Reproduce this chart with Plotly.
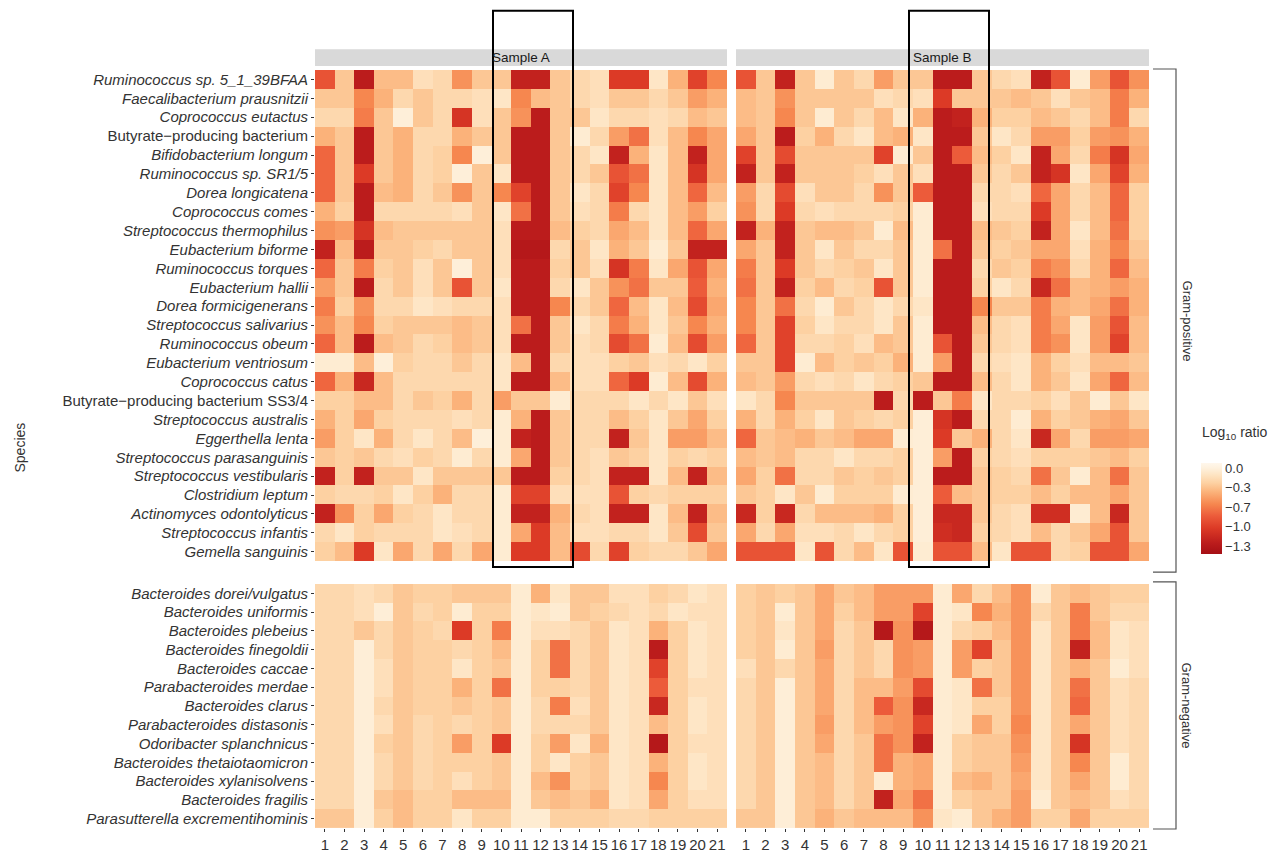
import plotly.graph_objects as go

# ---------------- data ----------------
columns = list(range(1, 22))
col_labels = [str(c) for c in columns]

gram_pos_species = [
    "Ruminococcus sp. 5_1_39BFAA", "Faecalibacterium prausnitzii", "Coprococcus eutactus",
    "Butyrate−producing bacterium", "Bifidobacterium longum", "Ruminococcus sp. SR1/5",
    "Dorea longicatena", "Coprococcus comes", "Streptococcus thermophilus",
    "Eubacterium biforme", "Ruminococcus torques", "Eubacterium hallii",
    "Dorea formicigenerans", "Streptococcus salivarius", "Ruminococcus obeum",
    "Eubacterium ventriosum", "Coprococcus catus", "Butyrate−producing bacterium SS3/4",
    "Streptococcus australis", "Eggerthella lenta", "Streptococcus parasanguinis",
    "Streptococcus vestibularis", "Clostridium leptum", "Actinomyces odontolyticus",
    "Streptococcus infantis", "Gemella sanguinis",
]
gram_pos_italic = [n not in ("Butyrate−producing bacterium", "Butyrate−producing bacterium SS3/4")
                   for n in gram_pos_species]

gram_neg_species = [
    "Bacteroides dorei/vulgatus", "Bacteroides uniformis", "Bacteroides plebeius",
    "Bacteroides finegoldii", "Bacteroides caccae", "Parabacteroides merdae",
    "Bacteroides clarus", "Parabacteroides distasonis", "Odoribacter splanchnicus",
    "Bacteroides thetaiotaomicron", "Bacteroides xylanisolvens", "Bacteroides fragilis",
    "Parasutterella excrementihominis",
]

gram_pos_A = [
    [-0.85,-0.3,-1.25,-0.35,-0.35,-0.15,-0.2,-0.55,-0.3,-0.3,-1.2,-1.2,-0.3,-0.2,-0.15,-1.0,-1.0,-0.1,-0.4,-0.95,-0.6],
    [-0.3,-0.3,-0.6,-0.4,-0.2,-0.3,-0.2,-0.2,-0.15,-0.1,-0.6,-0.35,-0.3,-0.2,-0.15,-0.3,-0.3,-0.2,-0.3,-0.5,-0.4],
    [-0.2,-0.2,-0.65,-0.3,-0.02,-0.3,-0.2,-1.05,-0.15,-0.3,-0.55,-1.25,-0.3,-0.3,-0.1,-0.2,-0.2,-0.15,-0.2,-0.35,-0.3],
    [-0.4,-0.3,-1.25,-0.3,-0.4,-0.2,-0.2,-0.4,-0.3,-0.3,-1.25,-1.25,-0.3,-0.05,-0.2,-0.5,-0.7,-0.15,-0.35,-0.6,-0.45],
    [-0.75,-0.3,-1.25,-0.3,-0.4,-0.2,-0.25,-0.6,-0.02,-0.3,-1.25,-1.25,-0.3,-0.2,-0.1,-1.2,-0.4,-0.1,-0.35,-1.2,-0.45],
    [-0.75,-0.3,-1.0,-0.3,-0.4,-0.2,-0.25,-0.02,-0.3,-0.1,-1.25,-1.25,-0.3,-0.2,-0.3,-0.85,-0.7,-0.1,-0.35,-1.05,-0.45],
    [-0.75,-0.3,-1.25,-0.35,-0.4,-0.2,-0.3,-0.55,-0.3,-0.6,-0.95,-1.25,-0.3,-0.1,-0.2,-0.95,-0.6,-0.1,-0.35,-0.75,-0.35],
    [-0.4,-0.25,-1.25,-0.2,-0.2,-0.2,-0.2,-0.15,-0.3,-0.1,-0.7,-1.25,-0.3,-0.15,-0.2,-0.65,-0.2,-0.1,-0.35,-0.5,-0.25],
    [-0.55,-0.5,-1.05,-0.35,-0.3,-0.3,-0.3,-0.3,-0.3,-0.15,-1.25,-1.25,-0.35,-0.25,-0.2,-0.45,-0.35,-0.1,-0.35,-0.75,-0.45],
    [-1.2,-0.35,-1.25,-0.3,-0.3,-0.25,-0.2,-0.3,-0.3,-0.15,-1.3,-1.3,-0.2,-0.3,-0.1,-0.4,-0.3,-0.05,-0.3,-1.2,-1.2],
    [-0.75,-0.3,-0.65,-0.25,-0.3,-0.15,-0.3,-0.02,-0.3,-0.15,-1.25,-1.25,-0.25,-0.3,-0.15,-1.05,-0.65,-0.1,-0.45,-0.85,-0.45],
    [-0.5,-0.3,-1.25,-0.2,-0.3,-0.15,-0.3,-0.85,-0.3,-0.1,-1.25,-1.25,-0.2,-0.1,-0.3,-0.55,-0.7,-0.3,-0.3,-0.8,-0.4],
    [-0.65,-0.25,-0.55,-0.2,-0.2,-0.1,-0.15,-0.2,-0.2,-0.15,-1.25,-1.25,-0.6,-0.2,-0.3,-0.75,-0.35,-0.1,-0.35,-0.9,-0.45],
    [-0.55,-0.35,-0.6,-0.25,-0.3,-0.3,-0.3,-0.35,-0.3,-0.15,-0.7,-1.25,-0.3,-0.1,-0.2,-0.65,-0.4,-0.1,-0.3,-0.6,-0.4],
    [-0.75,-0.35,-1.25,-0.35,-0.3,-0.2,-0.25,-0.35,-0.3,-0.15,-1.25,-1.25,-0.3,-0.15,-0.2,-0.9,-0.7,-0.05,-0.35,-0.9,-0.5],
    [-0.05,-0.05,-0.35,-0.02,-0.25,-0.2,-0.2,-0.3,-0.2,-0.1,-0.35,-1.25,-0.2,-0.15,-0.15,-0.25,-0.3,-0.15,-0.2,-0.1,-0.25],
    [-0.75,-0.4,-1.15,-0.35,-0.2,-0.2,-0.2,-0.2,-0.2,-0.1,-1.25,-1.25,-0.35,-0.15,-0.15,-0.75,-1.0,-0.05,-0.35,-0.9,-0.4],
    [-0.25,-0.25,-0.35,-0.35,-0.2,-0.3,-0.25,-0.4,-0.2,-0.5,-0.3,-0.3,-0.05,-0.2,-0.2,-0.2,-0.1,-0.2,-0.1,-0.3,-0.15],
    [-0.4,-0.25,-0.45,-0.25,-0.2,-0.2,-0.2,-0.15,-0.2,-0.05,-0.4,-1.25,-0.3,-0.2,-0.2,-0.35,-0.25,-0.1,-0.3,-0.45,-0.25],
    [-0.5,-0.25,-0.1,-0.4,-0.2,-0.1,-0.2,-0.35,-0.02,-0.05,-1.2,-1.25,-0.3,-0.2,-0.2,-1.2,-0.3,-0.1,-0.5,-0.5,-0.35],
    [-0.3,-0.25,-0.3,-0.2,-0.15,-0.25,-0.2,-0.05,-0.2,-0.05,-0.45,-1.25,-0.3,-0.2,-0.15,-0.3,-0.25,-0.1,-0.25,-0.2,-0.25],
    [-1.2,-0.25,-1.2,-0.3,-0.3,-0.1,-0.3,-0.3,-0.3,-0.3,-1.25,-1.25,-0.25,-0.2,-0.15,-1.2,-1.2,-0.1,-0.35,-1.2,-0.35],
    [-0.25,-0.2,-0.2,-0.25,-0.1,-0.25,-0.4,-0.2,-0.2,-0.05,-0.95,-0.95,-0.15,-0.15,-0.15,-0.85,-0.25,-0.2,-0.25,-0.25,-0.25],
    [-1.2,-0.55,-0.25,-0.45,-0.25,-0.2,-0.1,-0.2,-0.2,-0.05,-1.2,-1.2,-0.4,-0.2,-0.15,-1.2,-1.2,-0.1,-0.35,-1.2,-0.35],
    [-0.2,-0.1,-0.25,-0.2,-0.2,-0.2,-0.1,-0.15,-0.2,-0.05,-0.45,-1.0,-0.35,-0.15,-0.15,-0.2,-0.2,-0.1,-0.3,-0.9,-0.3],
    [-0.25,-0.35,-1.0,-0.1,-0.45,-0.2,-0.45,-0.2,-0.45,-0.05,-1.0,-1.0,-0.35,-0.9,-0.2,-0.95,-0.25,-0.2,-0.2,-0.3,-0.45],
]

gram_pos_B = [
    [-0.85,-0.3,-1.2,-0.3,-0.05,-0.3,-0.2,-0.5,-0.3,-0.3,-1.25,-1.25,-0.3,-0.2,-0.15,-1.2,-0.85,-0.05,-0.5,-0.85,-0.55],
    [-0.35,-0.3,-0.55,-0.3,-0.3,-0.3,-0.3,-0.15,-0.2,-0.15,-1.0,-0.3,-0.3,-0.3,-0.35,-0.3,-0.15,-0.3,-0.35,-0.65,-0.4],
    [-0.35,-0.3,-0.6,-0.3,-0.05,-0.3,-0.2,-0.35,-0.1,-0.4,-1.25,-1.2,-0.4,-0.25,-0.25,-0.35,-0.3,-0.2,-0.35,-0.65,-0.2],
    [-0.45,-0.3,-1.25,-0.25,-0.4,-0.2,-0.1,-0.35,-0.4,-0.1,-1.25,-1.25,-0.3,-0.1,-0.2,-0.5,-0.5,-0.25,-0.5,-0.55,-0.4],
    [-0.95,-0.3,-0.9,-0.3,-0.3,-0.3,-0.3,-0.95,-0.05,-0.3,-1.25,-0.8,-0.35,-0.25,-0.1,-1.2,-0.45,-0.2,-0.65,-1.05,-0.45],
    [-1.2,-0.3,-1.2,-0.3,-0.3,-0.3,-0.25,-0.15,-0.3,-0.15,-1.25,-1.25,-0.3,-0.2,-0.3,-1.2,-1.05,-0.1,-0.45,-0.95,-0.4],
    [-0.5,-0.2,-0.9,-0.15,-0.3,-0.3,-0.2,-0.55,-0.3,-0.8,-1.25,-1.25,-0.2,-0.2,-0.15,-0.75,-0.45,-0.2,-0.35,-0.75,-0.25],
    [-0.55,-0.2,-1.0,-0.2,-0.15,-0.2,-0.2,-0.2,-0.25,-0.05,-1.25,-1.25,-0.15,-0.2,-0.2,-1.0,-0.45,-0.2,-0.35,-0.75,-0.25],
    [-1.2,-0.4,-1.2,-0.3,-0.35,-0.35,-0.3,-0.05,-0.35,-0.05,-1.25,-1.25,-0.35,-0.3,-0.25,-1.2,-0.45,-0.1,-0.35,-0.7,-0.25],
    [-0.45,-0.3,-1.2,-0.3,-0.1,-0.3,-0.2,-0.2,-0.3,-0.05,-0.7,-1.25,-0.3,-0.25,-0.3,-0.45,-0.45,-0.15,-0.4,-0.6,-0.3],
    [-0.65,-0.3,-1.0,-0.3,-0.2,-0.25,-0.3,-0.1,-0.3,-0.05,-1.25,-1.25,-0.2,-0.3,-0.25,-0.65,-0.55,-0.2,-0.4,-0.75,-0.35],
    [-0.7,-0.3,-1.2,-0.25,-0.35,-0.2,-0.25,-0.85,-0.3,-0.05,-1.25,-1.25,-0.25,-0.1,-0.2,-1.15,-0.7,-0.35,-0.4,-0.5,-0.4],
    [-0.6,-0.3,-0.7,-0.2,-0.05,-0.3,-0.2,-0.1,-0.2,-0.1,-1.25,-1.25,-0.6,-0.3,-0.3,-0.65,-0.4,-0.35,-0.45,-0.7,-0.4],
    [-0.6,-0.3,-0.95,-0.25,-0.1,-0.2,-0.2,-0.1,-0.3,-0.05,-1.25,-1.25,-0.35,-0.2,-0.15,-0.65,-0.45,-0.1,-0.5,-0.85,-0.35],
    [-0.75,-0.3,-0.95,-0.2,-0.2,-0.25,-0.15,-0.35,-0.3,-0.05,-0.85,-1.25,-0.3,-0.2,-0.15,-0.65,-0.55,-0.1,-0.5,-0.95,-0.35],
    [-0.3,-0.3,-0.95,-0.05,-0.35,-0.25,-0.3,-0.25,-0.4,-0.05,-0.5,-1.25,-0.2,-0.15,-0.1,-0.4,-0.25,-0.15,-0.35,-0.35,-0.3],
    [-0.35,-0.3,-0.5,-0.2,-0.15,-0.2,-0.1,-0.2,-0.25,-0.3,-1.25,-1.25,-0.35,-0.2,-0.1,-0.4,-0.3,-0.1,-0.45,-0.75,-0.35],
    [-0.1,-0.2,-0.6,-0.3,-0.3,-0.3,-0.3,-1.25,-0.2,-1.25,-0.3,-0.65,-0.1,-0.2,-0.2,-0.25,-0.15,-0.3,-0.05,-0.3,-0.1],
    [-0.4,-0.2,-0.4,-0.25,-0.1,-0.3,-0.25,-0.2,-0.25,-0.03,-1.05,-1.25,-0.2,-0.2,-0.05,-0.4,-0.25,-0.3,-0.4,-0.45,-0.3],
    [-0.75,-0.3,-0.35,-0.4,-0.3,-0.35,-0.45,-0.45,-0.05,-0.03,-1.0,-0.3,-0.4,-0.2,-0.1,-1.15,-0.45,-0.2,-0.5,-0.5,-0.45],
    [-0.35,-0.3,-0.35,-0.2,-0.2,-0.1,-0.2,-0.2,-0.25,-0.03,-0.5,-1.25,-0.25,-0.2,-0.15,-0.25,-0.25,-0.25,-0.3,-0.35,-0.25],
    [-0.45,-0.25,-0.7,-0.2,-0.2,-0.3,-0.25,-0.3,-0.25,-0.03,-1.25,-1.25,-0.3,-0.25,-0.2,-0.7,-0.3,-0.05,-0.35,-0.7,-0.3],
    [-0.3,-0.25,-0.1,-0.3,-0.05,-0.25,-0.25,-0.25,-0.05,-0.03,-0.8,-0.35,-0.3,-0.25,-0.25,-0.35,-0.25,-0.35,-0.35,-0.45,-0.3],
    [-1.15,-0.25,-1.15,-0.2,-0.35,-0.35,-0.35,-0.4,-0.25,-0.03,-1.15,-1.15,-0.3,-0.2,-0.15,-1.1,-1.1,-0.05,-0.35,-1.15,-0.3],
    [-0.45,-0.2,-0.45,-0.15,-0.15,-0.2,-0.1,-0.2,-0.25,-0.03,-1.1,-1.15,-0.25,-0.2,-0.15,-0.35,-0.2,-0.3,-0.45,-0.85,-0.3],
    [-0.85,-0.85,-0.85,-0.1,-0.85,-0.2,-0.35,-0.1,-0.85,-0.05,-0.85,-0.85,-0.35,-0.1,-0.85,-0.85,-0.2,-0.25,-0.85,-0.85,-0.45],
]

gram_neg_A = [
    [-0.2,-0.2,-0.15,-0.2,-0.3,-0.25,-0.25,-0.3,-0.3,-0.3,-0.05,-0.4,-0.1,-0.3,-0.3,-0.15,-0.15,-0.25,-0.2,-0.1,-0.15],
    [-0.2,-0.2,-0.15,-0.03,-0.3,-0.2,-0.25,-0.05,-0.25,-0.25,-0.05,-0.1,-0.05,-0.3,-0.25,-0.2,-0.15,-0.2,-0.1,-0.15,-0.15],
    [-0.2,-0.2,-0.3,-0.2,-0.3,-0.25,-0.2,-1.0,-0.25,-0.65,-0.05,-0.15,-0.15,-0.2,-0.3,-0.1,-0.15,-0.4,-0.25,-0.1,-0.15],
    [-0.2,-0.2,-0.03,-0.2,-0.3,-0.25,-0.25,-0.2,-0.25,-0.35,-0.05,-0.25,-0.7,-0.2,-0.3,-0.1,-0.15,-1.25,-0.25,-0.1,-0.15],
    [-0.2,-0.2,-0.03,-0.15,-0.3,-0.25,-0.25,-0.1,-0.25,-0.3,-0.05,-0.25,-0.7,-0.2,-0.3,-0.1,-0.15,-0.95,-0.25,-0.1,-0.15],
    [-0.2,-0.2,-0.03,-0.15,-0.3,-0.25,-0.25,-0.4,-0.25,-0.7,-0.05,-0.25,-0.25,-0.2,-0.3,-0.1,-0.15,-0.8,-0.25,-0.15,-0.15],
    [-0.2,-0.2,-0.03,-0.2,-0.3,-0.25,-0.25,-0.3,-0.25,-0.3,-0.05,-0.2,-0.65,-0.15,-0.3,-0.1,-0.15,-1.15,-0.25,-0.1,-0.15],
    [-0.2,-0.2,-0.03,-0.15,-0.3,-0.2,-0.25,-0.2,-0.25,-0.3,-0.05,-0.2,-0.2,-0.2,-0.3,-0.1,-0.15,-0.35,-0.25,-0.1,-0.15],
    [-0.2,-0.2,-0.03,-0.25,-0.3,-0.2,-0.25,-0.5,-0.25,-1.0,-0.05,-0.25,-0.5,-0.1,-0.4,-0.1,-0.15,-1.3,-0.25,-0.15,-0.15],
    [-0.2,-0.2,-0.03,-0.2,-0.3,-0.2,-0.25,-0.25,-0.25,-0.3,-0.05,-0.25,-0.1,-0.25,-0.3,-0.1,-0.15,-0.4,-0.25,-0.1,-0.15],
    [-0.2,-0.2,-0.03,-0.2,-0.3,-0.2,-0.25,-0.15,-0.25,-0.3,-0.05,-0.35,-0.55,-0.25,-0.3,-0.1,-0.15,-0.6,-0.25,-0.1,-0.15],
    [-0.2,-0.2,-0.03,-0.3,-0.35,-0.25,-0.25,-0.35,-0.35,-0.35,-0.05,-0.3,-0.35,-0.3,-0.4,-0.1,-0.15,-0.45,-0.25,-0.15,-0.15],
    [-0.3,-0.3,-0.03,-0.25,-0.35,-0.25,-0.25,-0.1,-0.25,-0.25,-0.05,-0.05,-0.25,-0.25,-0.25,-0.2,-0.2,-0.25,-0.25,-0.25,-0.25],
]

gram_neg_B = [
    [-0.25,-0.3,-0.25,-0.3,-0.45,-0.3,-0.35,-0.5,-0.5,-0.5,-0.05,-0.45,-0.2,-0.35,-0.55,-0.05,-0.3,-0.35,-0.3,-0.25,-0.25],
    [-0.25,-0.3,-0.05,-0.3,-0.45,-0.25,-0.35,-0.5,-0.5,-0.95,-0.05,-0.1,-0.6,-0.4,-0.55,-0.2,-0.3,-0.65,-0.3,-0.2,-0.2],
    [-0.25,-0.3,-0.1,-0.3,-0.45,-0.2,-0.3,-1.3,-0.55,-1.3,-0.05,-0.2,-0.25,-0.35,-0.55,-0.1,-0.3,-0.65,-0.35,-0.1,-0.15],
    [-0.25,-0.3,-0.05,-0.3,-0.5,-0.2,-0.3,-0.2,-0.55,-0.5,-0.05,-0.5,-0.95,-0.3,-0.55,-0.1,-0.3,-1.2,-0.35,-0.1,-0.15],
    [-0.15,-0.3,-0.2,-0.3,-0.45,-0.2,-0.3,-0.2,-0.55,-0.5,-0.05,-0.5,-0.25,-0.3,-0.55,-0.1,-0.3,-0.4,-0.3,-0.05,-0.15],
    [-0.2,-0.3,-0.03,-0.3,-0.45,-0.2,-0.35,-0.35,-0.5,-0.9,-0.05,-0.1,-0.7,-0.3,-0.55,-0.1,-0.3,-0.7,-0.3,-0.15,-0.2],
    [-0.2,-0.3,-0.03,-0.3,-0.45,-0.2,-0.35,-0.8,-0.55,-1.15,-0.05,-0.1,-0.25,-0.25,-0.55,-0.1,-0.3,-0.75,-0.3,-0.15,-0.2],
    [-0.2,-0.3,-0.03,-0.3,-0.5,-0.2,-0.35,-0.5,-0.55,-0.95,-0.05,-0.1,-0.45,-0.25,-0.6,-0.1,-0.3,-0.45,-0.3,-0.15,-0.2],
    [-0.2,-0.3,-0.03,-0.3,-0.45,-0.2,-0.3,-0.7,-0.55,-1.2,-0.05,-0.25,-0.3,-0.3,-0.55,-0.1,-0.3,-1.05,-0.3,-0.15,-0.2],
    [-0.2,-0.3,-0.03,-0.3,-0.35,-0.2,-0.3,-0.7,-0.4,-0.45,-0.05,-0.25,-0.3,-0.3,-0.5,-0.1,-0.3,-0.6,-0.3,-0.05,-0.2],
    [-0.2,-0.3,-0.03,-0.3,-0.35,-0.2,-0.3,-0.05,-0.4,-0.45,-0.05,-0.35,-0.4,-0.3,-0.45,-0.1,-0.3,-0.45,-0.3,-0.05,-0.2],
    [-0.2,-0.3,-0.03,-0.3,-0.35,-0.2,-0.3,-1.2,-0.45,-0.7,-0.05,-0.25,-0.3,-0.3,-0.5,-0.05,-0.3,-0.35,-0.3,-0.15,-0.2],
    [-0.3,-0.3,-0.03,-0.3,-0.4,-0.3,-0.35,-0.35,-0.35,-0.55,-0.1,-0.05,-0.3,-0.4,-0.5,-0.25,-0.25,-0.45,-0.25,-0.25,-0.25],
]

samples = ["Sample A", "Sample B"]
groups = ["Gram-positive", "Gram-negative"]
legend_title = "Log<sub>10</sub> ratio"
cbar_ticks = [0.0, -0.325, -0.65, -0.975, -1.3]
cbar_labels = ["0.0", "−0.3", "−0.7", "−1.0", "−1.3"]

# ---------------- layout helpers ----------------
W, H = 1278, 865
L, R, T, B = 315, 1149, 70, 837
def px(x):
    return (x - L) / (R - L)
def py(y):
    return (B - y) / (B - T)

ZMIN, ZMAX = -1.43, 0.083
def pos(v):
    return (v - ZMIN) / (ZMAX - ZMIN)
colorscale = [
    [0.0, "#A50F15"],
    [pos(-1.25), "#BB1C1C"],
    [pos(-1.0), "#DC3A26"],
    [pos(-0.8), "#EC5B3A"],
    [pos(-0.6), "#F6874F"],
    [pos(-0.4), "#FBB27A"],
    [pos(-0.25), "#FDD1A2"],
    [pos(-0.1), "#FEE6C6"],
    [pos(0.0), "#FEF1DE"],
    [1.0, "#FFF7EC"],
]

FONT = "Liberation Sans, Arial, sans-serif"
TXT = "#333333"

xA = [0, px(727)]
xB = [px(736), 1]
yGP = [py(567), 1]
yGN = [0, py(590)]

fig = go.Figure()
panels = [
    (gram_pos_A, "x", "y"),
    (gram_pos_B, "x2", "y2"),
    (gram_neg_A, "x3", "y3"),
    (gram_neg_B, "x4", "y4"),
]
for z, xa, ya in panels:
    fig.add_trace(go.Heatmap(
        z=z, x=columns, y=list(range(len(z))),
        coloraxis="coloraxis", xaxis=xa, yaxis=ya, xgap=0, ygap=0,
        hovertemplate="col %{x}<br>%{z}<extra></extra>",
    ))

def ylab(names, italic):
    return [f"<i>{n}</i>" if it else n for n, it in zip(names, italic)]

common_x = dict(range=[0.5, 21.5], showgrid=False, zeroline=False, showline=False,
                tickvals=columns, ticktext=col_labels, ticks="outside", ticklen=3,
                tickcolor="#333333", tickfont=dict(size=15, color=TXT, family=FONT))
common_y = dict(showgrid=False, zeroline=False, showline=False, ticks="outside", ticklen=3,
                tickcolor="#333333", tickfont=dict(size=15, color=TXT, family=FONT))

n_gp, n_gn = len(gram_pos_species), len(gram_neg_species)
fig.update_layout(
    xaxis=dict(domain=xA, anchor="y", **{**common_x, "showticklabels": False, "ticks": ""}),
    xaxis2=dict(domain=xB, anchor="y2", **{**common_x, "showticklabels": False, "ticks": ""}),
    xaxis3=dict(domain=xA, anchor="y3", **common_x),
    xaxis4=dict(domain=xB, anchor="y4", **common_x),
    yaxis=dict(domain=yGP, anchor="x", range=[n_gp - 0.5, -0.5], tickvals=list(range(n_gp)),
               ticktext=ylab(gram_pos_species, gram_pos_italic), **common_y),
    yaxis2=dict(domain=yGP, anchor="x2", range=[n_gp - 0.5, -0.5], showticklabels=False,
                showgrid=False, zeroline=False),
    yaxis3=dict(domain=yGN, anchor="x3", range=[n_gn - 0.5, -0.5], tickvals=list(range(n_gn)),
                ticktext=ylab(gram_neg_species, [True] * n_gn), **common_y),
    yaxis4=dict(domain=yGN, anchor="x4", range=[n_gn - 0.5, -0.5], showticklabels=False,
                showgrid=False, zeroline=False),
    coloraxis=dict(
        colorscale=colorscale, cmin=ZMIN, cmax=ZMAX,
        colorbar=dict(
            x=px(1201), xanchor="left", y=py(560), yanchor="bottom",
            lenmode="pixels", len=91, thickness=21, ypad=0, xpad=0,
            outlinewidth=0, ticks="", tickvals=cbar_ticks, ticktext=cbar_labels,
            tickfont=dict(size=13, color=TXT, family=FONT),
        ),
    ),
    width=W, height=H,
    margin=dict(l=L, r=W - R, t=T, b=H - B, pad=0),
    paper_bgcolor="white", plot_bgcolor="white",
    font=dict(family=FONT, color=TXT),
)

shapes = []
annotations = []
# facet strips
for dom, name in [(xA, samples[0]), (xB, samples[1])]:
    shapes.append(dict(type="rect", xref="paper", yref="paper", x0=dom[0], x1=dom[1],
                       y0=py(66), y1=py(49), fillcolor="#D9D9D9", line=dict(width=0), layer="below"))
    annotations.append(dict(text=name, xref="paper", yref="paper", x=(dom[0] + dom[1]) / 2,
                            y=py(57.5), showarrow=False, font=dict(size=13.5, color="#1A1A1A", family=FONT),
                            xanchor="center", yanchor="middle"))

# highlight boxes
for x0, x1 in [(493, 573), (909, 989)]:
    shapes.append(dict(type="rect", xref="paper", yref="paper", x0=px(x0), x1=px(x1),
                       y0=py(573), y1=py(10), line=dict(color="black", width=2),
                       fillcolor="rgba(0,0,0,0)", layer="above"))

# group brackets
for (ytop, ybot), label in [((69, 578), groups[0]), ((588, 838), groups[1])]:
    shapes.append(dict(type="path", xref="paper", yref="paper",
                       path=f"M {px(1153)} {py(ytop)} L {px(1176)} {py(ytop)} L {px(1176)} {py(ybot)} L {px(1153)} {py(ybot)}",
                       line=dict(color="#555555", width=1.2)))
    annotations.append(dict(text=label, xref="paper", yref="paper", x=px(1187),
                            y=py((ytop + ybot) / 2), textangle=90, showarrow=False,
                            font=dict(size=13, color=TXT, family=FONT),
                            xanchor="center", yanchor="middle"))

# legend title
annotations.append(dict(text=legend_title, xref="paper", yref="paper", x=px(1200), y=py(437),
                        showarrow=False, font=dict(size=14, color=TXT, family=FONT),
                        xanchor="left", yanchor="middle"))

# y axis title
annotations.append(dict(text="Species", xref="paper", yref="paper", x=px(20), y=py(452),
                        textangle=-90, showarrow=False, font=dict(size=14, color=TXT, family=FONT),
                        xanchor="center", yanchor="middle"))

fig.update_layout(shapes=shapes, annotations=annotations)
fig.write_html("out.html", config={"displayModeBar": False},
               post_script="document.body.style.margin='0';")
